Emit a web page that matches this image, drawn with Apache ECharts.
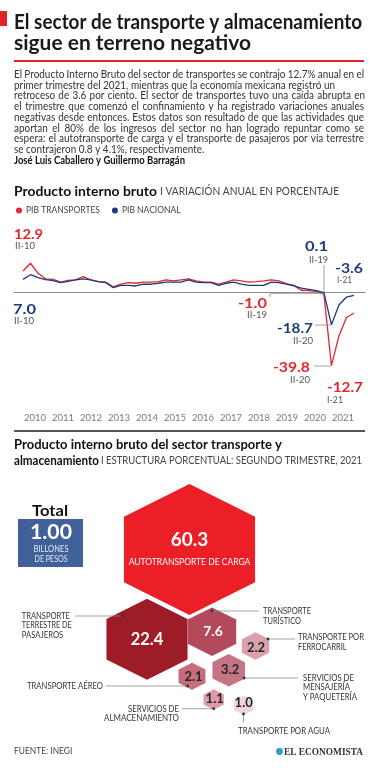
<!DOCTYPE html>
<html><head><meta charset="utf-8">
<script src="https://cdn.jsdelivr.net/npm/echarts@6/dist/echarts.min.js"></script>
<style>html,body{margin:0;padding:0;background:#fff}#c{width:378px;height:768px}</style>
</head><body><div id="c"></div>
<script>
// ---------- DATA ----------
const quarters = ['I-10','II-10','III-10','IV-10','I-11','II-11','III-11','IV-11','I-12','II-12','III-12','IV-12',
  'I-13','II-13','III-13','IV-13','I-14','II-14','III-14','IV-14','I-15','II-15','III-15','IV-15',
  'I-16','II-16','III-16','IV-16','I-17','II-17','III-17','IV-17','I-18','II-18','III-18','IV-18',
  'I-19','II-19','III-19','IV-19','I-20','II-20','III-20','IV-20','I-21'];
const pibTransportes = [8.9,12.9,7.7,4.9,4.6,3.2,4.1,4.3,6.0,4.3,3.4,3.2,
  0.8,2.1,2.9,2.6,3.2,3.2,3.4,4.3,3.8,4.3,4.9,3.8,
  3.2,3.2,2.1,3.2,4.3,3.8,3.2,3.4,3.8,4.3,3.8,2.4,
  1.5,-1.0,-1.2,-1.6,-3.0,-39.8,-24.5,-15.0,-12.7];
const pibNacional = [4.6,7.0,5.5,4.5,4.0,2.9,3.6,4.3,4.9,4.3,3.4,2.9,
  0.3,1.5,1.5,1.2,2.1,2.1,2.6,3.2,3.2,3.2,4.3,3.2,
  2.9,2.9,1.5,2.6,3.2,2.1,1.5,1.5,1.5,3.2,2.9,2.1,
  1.2,0.1,-0.5,-1.2,-2.2,-18.7,-8.6,-4.5,-3.6];
const yearLabels = ['2010','2011','2012','2013','2014','2015','2016','2017','2018','2019','2020','2021'];
const seriesNames = ['PIB TRANSPORTES','PIB NACIONAL'];
const sectorNames = ['AUTOTRANSPORTE DE CARGA','TRANSPORTE TERRESTRE DE PASAJEROS','TRANSPORTE TURÍSTICO',
  'TRANSPORTE POR FERROCARRIL','SERVICIOS DE MENSAJERÍA Y PAQUETERÍA','TRANSPORTE AÉREO',
  'SERVICIOS DE ALMACENAMIENTO','TRANSPORTE POR AGUA'];
const sectorShares = [60.3,22.4,7.6,2.2,3.2,2.1,1.1,1.0];

// ---------- LAYOUT / STYLE ----------
const hexCenterX = [189.5,147,212,255.5,228.7,192,213.7,243.7];
const hexCenterY = [549.5,639.3,631.7,646,670.3,676.3,699.5,705.3];
const hexColors = ['#ec1f27','#9d1c27','#b24a5b','#dba2ab','#c47482','#c66c7b','#dc9ba6','#f0d6da'];
const hexLabelColors = ['#fff','#fff','#fff','#262626','#262626','#262626','#262626','#262626'];
const hexLabelSizes = [19,16.5,14,13,13,13,13,13];
const hexLabelOffsets = [[0,-2],[0,0],[1,0],[0.5,1.5],[1.5,0],[1.5,1],[1,-0.5],[0,-2.8]];
const RED = '#e5262f', NAVY = '#1e3a7a', GREY = '#8c8c8c';
const F = "Lato, 'Open Sans', 'Liberation Sans', sans-serif";

const mctx = document.createElement('canvas').getContext('2d');
function measure(str, font) { mctx.font = font; return mctx.measureText(str).width; }
function txt(str, x, y, o) {
  o = o || {};
  const size = o.size || 10, weight = o.weight || 'normal', family = o.family || F;
  const font = weight + ' ' + size + 'px ' + family;
  let sx = o.sx || 1;
  if (o.w) { const mw = measure(str, font); if (mw > 0) sx = o.w / mw; }
  return { type: 'text', x: x, y: y, scaleX: sx, scaleY: 1, originX: 0, originY: 0, silent: true, z: 10,
    style: { text: str, fill: o.color || '#333', font: font, fontSize: size, fontWeight: weight, fontFamily: family,
      align: o.align || 'left', textAlign: o.align || 'left', verticalAlign: 'middle', textVerticalAlign: 'middle' } };
}
function line(pts, color, w) {
  return { type: 'polyline', silent: true, z: 9, shape: { points: pts }, style: { stroke: color || GREY, lineWidth: w || 0.8, fill: null } };
}
function dot(x, y) { return { type: 'circle', silent: true, z: 11, shape: { cx: x, cy: y, r: 1.4 }, style: { fill: '#333' } }; }
function rect(x, y, w, h, c) { return { type: 'rect', silent: true, z: 1, shape: { x: x, y: y, width: w, height: h }, style: { fill: c } }; }

// body text: [text, justified width or 0 for natural]
const bodyLines = [
  ['El Producto Interno Bruto del sector de transportes se contrajo 12.7% anual en el', 350],
  ['primer trimestre del 2021, mientras que la economía mexicana registró un', 0],
  ['retroceso de 3.6 por ciento. El sector de transportes tuvo una caída abrupta en', 351],
  ['el trimestre que comenzó el confinamiento y ha registrado variaciones anuales', 350],
  ['negativas desde entonces. Estos datos son resultado de que las actividades que', 350],
  ['aportan el 80% de los ingresos del sector no han logrado repuntar como se', 350],
  ['espera: el autotransporte de carga y el transporte de pasajeros por vía terrestre', 350],
  ['se contrajeron 0.8 y 4.1%, respectivamente.', 0]
];
const bodyY = [74.5, 85.3, 96, 106.8, 117.5, 128.3, 139, 149.8];
const BODY_FONT = 'normal 10.5px ' + F;
const bodyScale = 321 / measure(bodyLines[1][0], BODY_FONT);

const g = [];
// header
g.push(rect(0, 11, 7, 15, '#e42229'));
g.push(txt('El sector de transporte y almacenamiento', 14, 22.5, { size: 21, weight: 'bold', color: '#1a1a1a', w: 348 }));
g.push(txt('sigue en terreno negativo', 14, 43.5, { size: 21, weight: 'bold', color: '#1a1a1a', w: 237 }));
g.push(rect(14, 60, 350, 2, '#e42229'));
bodyLines.forEach((l, i) => {
  if (l[1]) {
    const words = l[0].split(' ');
    const ww = words.map(w => measure(w, BODY_FONT) * bodyScale);
    const gap = (l[1] - ww.reduce((a, b) => a + b, 0)) / (words.length - 1);
    let x = 14;
    words.forEach((w, k) => { g.push(txt(w, x, bodyY[i], { size: 10.5, color: '#333', sx: bodyScale })); x += ww[k] + gap; });
  } else {
    g.push(txt(l[0], 14, bodyY[i], { size: 10.5, color: '#333', sx: bodyScale }));
  }
});
g.push(txt('José Luis Caballero y Guillermo Barragán', 14, 160.8, { size: 10.5, weight: 'bold', color: '#111', w: 171 }));
// line chart title
g.push(txt('Producto interno bruto', 14, 191.5, { size: 13.5, weight: 'bold', color: '#111', w: 143 }));
g.push(txt('I VARIACIÓN ANUAL EN PORCENTAJE', 160, 192, { size: 10.5, color: '#444', w: 179 }));
// annotations
const ann = [
  ['12.9', 14, 234.5, RED, 'left', 29], ['0.1', 328, 246, NAVY, 'right', 23], ['-3.6', 335, 268, NAVY, 'left', 28],
  ['7.0', 13, 309, NAVY, 'left', 23], ['-1.0', 267, 303, RED, 'right', 29], ['-18.7', 313, 328, NAVY, 'right', 36],
  ['-39.8', 310, 367.5, RED, 'right', 37], ['-12.7', 327, 387, RED, 'left', 36]
];
ann.forEach(a => g.push(txt(a[0], a[1], a[2], { size: 14, weight: 'bold', color: a[3], align: a[4], w: a[5] })));
const annQ = [
  ['II-10', 15, 246, 'left', 20], ['II-19', 328, 259.7, 'right', 19], ['I-21', 337, 280.5, 'left', 15],
  ['II-10', 14, 321, 'left', 20], ['II-19', 267, 315.5, 'right', 20], ['II-20', 313, 341, 'right', 20],
  ['II-20', 310, 380, 'right', 20], ['I-21', 327, 400, 'left', 16]
];
annQ.forEach(a => g.push(txt(a[0], a[1], a[2], { size: 9, color: '#555', align: a[3], w: a[4] })));
g.push(line([[324, 265], [324, 292]]));
g.push(line([[270, 297], [270, 293.3], [324, 293.3]]));
g.push(line([[315, 325], [331, 325]]));
g.push(line([[314, 366], [331, 366]]));
// separator
g.push(rect(14, 430, 351, 2, '#555'));
// section 2 title
g.push(txt('Producto interno bruto del sector transporte y', 14, 445, { size: 13.5, weight: 'bold', color: '#111', w: 268 }));
g.push(txt('almacenamiento', 14, 460.5, { size: 13.5, weight: 'bold', color: '#111', w: 85 }));
g.push(txt('I ESTRUCTURA PORCENTUAL: SEGUNDO TRIMESTRE, 2021', 101, 461, { size: 10.5, color: '#444', w: 261 }));
// total box
g.push(txt('Total', 50, 511, { size: 15, weight: 'bold', color: '#111', align: 'center', w: 36 }));
g.push(rect(18, 519, 65, 48, '#41619b'));
g.push(txt('1.00', 51, 533, { size: 20, weight: 'bold', color: '#fff', align: 'center', w: 42 }));
g.push(txt('BILLONES', 51, 549, { size: 8.5, color: '#e3e9f3', align: 'center', w: 35 }));
g.push(txt('DE PESOS', 51, 558.8, { size: 8.5, color: '#e3e9f3', align: 'center', w: 33 }));
// callouts
const call = [
  ['TRANSPORTE', 21.7, 616, 'left', 48.3], ['TERRESTRE DE', 21.7, 625.7, 'left', 50], ['PASAJEROS', 21.7, 635.7, 'left', 41.6],
  ['TRANSPORTE', 263, 611, 'left', 48], ['TURÍSTICO', 263, 621, 'left', 38],
  ['TRANSPORTE POR', 298, 637, 'left', 66], ['FERROCARRIL', 298, 647, 'left', 48.5],
  ['SERVICIOS DE', 303, 678, 'left', 51], ['MENSAJERÍA', 303, 687.7, 'left', 47], ['Y PAQUETERÍA', 303, 697.5, 'left', 54],
  ['TRANSPORTE AÉREO', 103, 686.7, 'right', 76],
  ['SERVICIOS DE', 179, 709.3, 'right', 51], ['ALMACENAMIENTO', 179, 718.7, 'right', 75],
  ['TRANSPORTE POR AGUA', 238, 731, 'left', 92]
];
call.forEach(a => g.push(txt(a[0], a[1], a[2], { size: 8.5, color: '#333', align: a[3], w: a[4] })));
g.push(line([[75, 616], [122, 616]])); g.push(dot(122, 616));
g.push(line([[212, 611], [259, 611]])); g.push(dot(212, 611));
g.push(line([[268, 639], [295, 639]])); g.push(dot(268, 639));
g.push(line([[244, 678], [298, 678]])); g.push(dot(244, 678));
g.push(line([[106, 686], [187.5, 686]])); g.push(dot(187.5, 686));
g.push(line([[182, 708.7], [213.7, 708.7]])); g.push(dot(213.7, 708.7));
g.push(line([[243.5, 714], [243.5, 722.5]])); g.push(dot(243.5, 714));
// footer
g.push(txt('FUENTE: INEGI', 14, 751.5, { size: 9, color: '#444', w: 58.3 }));
g.push({ type: 'circle', silent: true, z: 11, shape: { cx: 279.5, cy: 751.5, r: 3.4 }, style: { fill: '#2d9bd6' } });
g.push(txt('EL ECONOMISTA', 284, 751.8, { size: 11, weight: 'bold', family: "'Liberation Serif', serif", color: '#333', w: 79 }));

// hexagon scatter data
const HEX = 'path://M50,0 L100,25 L100,75 L50,100 L0,75 L0,25 Z';
const hexData = sectorShares.map((v, i) => {
  const item = {
    name: sectorNames[i],
    value: [hexCenterX[i], hexCenterY[i], v],
    itemStyle: { color: hexColors[i], opacity: 1 },
    label: {
      show: true, position: 'inside', offset: hexLabelOffsets[i],
      color: hexLabelColors[i], fontSize: hexLabelSizes[i], fontWeight: 'bold', fontFamily: F,
      formatter: (p) => p.value[2].toFixed(1)
    }
  };
  if (i === 0) {
    item.label.formatter = (p) => '{v|' + p.value[2].toFixed(1) + '}\n{n|' + p.name + '}';
    item.label.rich = {
      v: { fontSize: 19, fontWeight: 'bold', color: '#fff', lineHeight: 30, fontFamily: F },
      n: { fontSize: 8.5, fontWeight: 'normal', color: '#fff', lineHeight: 16, fontFamily: F }
    };
  }
  return item;
});

const chart = echarts.init(document.getElementById('c'), null, { renderer: 'canvas' });
chart.setOption({
  animation: false,
  backgroundColor: '#fff',
  legend: {
    data: seriesNames, left: 11, top: 201, icon: 'circle', itemWidth: 6, itemHeight: 6, itemGap: 12,
    selectedMode: false, textStyle: { fontSize: 8.5, color: '#444', fontFamily: F, padding: [0, 0, 0, -1] }
  },
  grid: [
    { left: 23, right: 24, top: 261.1, height: 106.9 },
    { left: 14, right: 13, top: 200, height: 92 },
    { left: 21, right: 21, top: 300, height: 110 },
    { left: 0, top: 0, width: 378, height: 768 }
  ],
  xAxis: [
    { gridIndex: 0, type: 'category', data: quarters, boundaryGap: false, show: false },
    { gridIndex: 1, type: 'value', min: 0, max: 1, axisLine: { show: true, onZero: true, lineStyle: { color: GREY, width: 1 } },
      axisTick: { show: false }, axisLabel: { show: false }, splitLine: { show: false } },
    { gridIndex: 2, type: 'category', data: yearLabels, boundaryGap: true, axisLine: { show: false }, axisTick: { show: false },
      axisLabel: { color: '#7a7a7a', fontSize: 9.5, margin: 3, fontFamily: F, interval: 0 }, splitLine: { show: false } },
    { gridIndex: 3, type: 'value', min: 0, max: 378, show: false }
  ],
  yAxis: [
    { gridIndex: 0, type: 'value', min: -41, max: 14, show: false },
    { gridIndex: 1, type: 'value', min: 0, max: 1, show: false },
    { gridIndex: 2, type: 'value', min: 0, max: 1, show: false },
    { gridIndex: 3, type: 'value', min: 0, max: 768, inverse: true, show: false }
  ],
  graphic: { elements: g },
  series: [
    { name: seriesNames[0], type: 'line', xAxisIndex: 0, yAxisIndex: 0, data: pibTransportes, showSymbol: false, symbol: 'circle',
      lineStyle: { color: RED, width: 1.3 }, itemStyle: { color: RED }, z: 3, silent: true },
    { name: seriesNames[1], type: 'line', xAxisIndex: 0, yAxisIndex: 0, data: pibNacional, showSymbol: false, symbol: 'circle',
      lineStyle: { color: NAVY, width: 1.3 }, itemStyle: { color: NAVY }, z: 4, silent: true },
    { type: 'scatter', xAxisIndex: 3, yAxisIndex: 3, symbol: HEX,
      symbolSize: (d) => { const s = 3 + 16.5 * Math.sqrt(d[2]); return [s, s]; },
      data: hexData, z: 2, silent: true, itemStyle: { opacity: 1 } }
  ]
});
</script></body></html>
